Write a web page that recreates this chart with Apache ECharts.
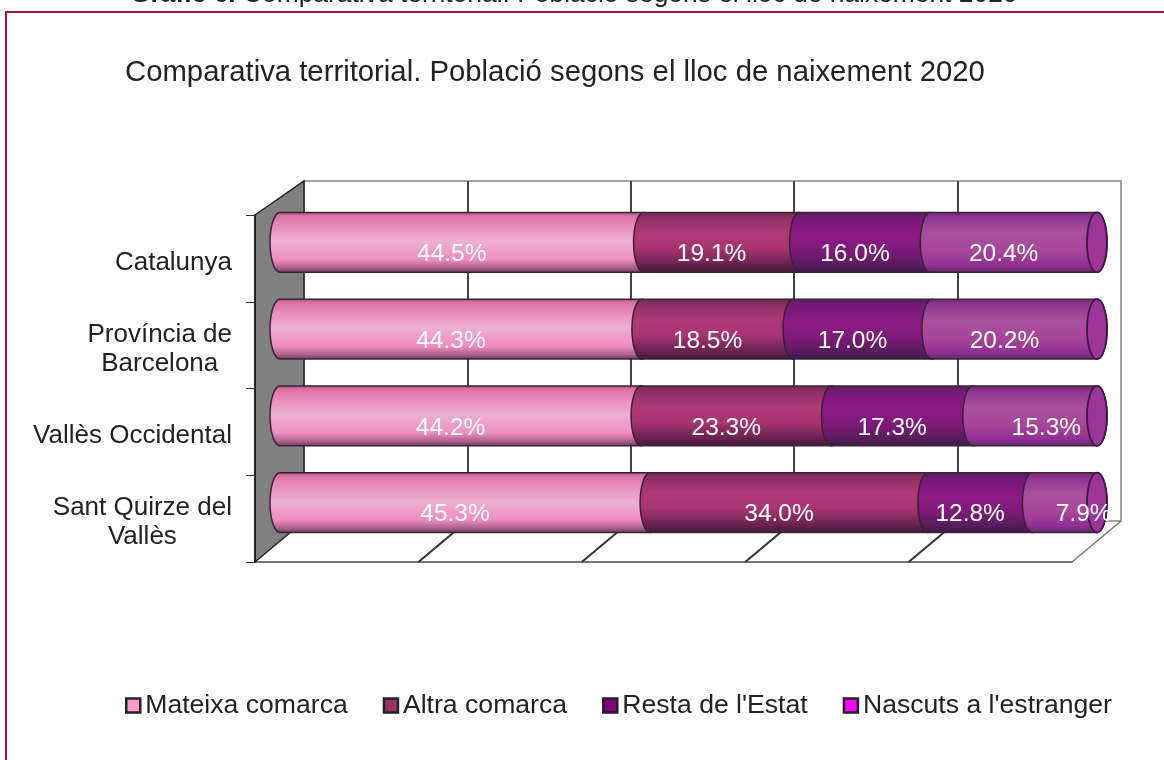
<!DOCTYPE html>
<html>
<head>
<meta charset="utf-8">
<style>html,body{margin:0;padding:0;background:#fff}#c{width:1164px;height:760px}</style>
<script src="https://cdn.jsdelivr.net/npm/echarts@6/dist/echarts.min.js"></script>
</head>
<body>
<div id="c"></div>
<script>
const categories = ['Catalunya', 'Província de\nBarcelona', 'Vallès Occidental', 'Sant Quirze del\nVallès'];
const seriesNames = ['Mateixa comarca', 'Altra comarca', "Resta de l'Estat", "Nascuts a l'estranger"];
const mateixa = [44.5, 44.3, 44.2, 45.3];
const altra = [19.1, 18.5, 23.3, 34.0];
const resta = [16.0, 17.0, 17.3, 12.8];
const estranger = [20.4, 20.2, 15.3, 7.9];
const valueTicks = [0, 20, 40, 60, 80, 100];
const pageHeading = 'Comparativa territorial. Població segons el lloc de naixement 2020';
const chartTitle = 'Comparativa territorial. Població segons el lloc de naixement 2020';

const FONT = '"Liberation Sans", Arial, sans-serif';
const legendColors = ['#FF99CC', '#993366', '#800080', '#FF00FF'];
const ramps = [
  [[0,'#8a4f70'],[0.06,'#d9709f'],[0.22,'#e88ab8'],[0.48,'#ecb0d0'],[0.78,'#f08cc0'],[0.92,'#a85f88'],[1,'#5e3a52']],
  [[0,'#6a2a50'],[0.1,'#8f2f63'],[0.35,'#ad3a75'],[0.6,'#a83570'],[0.85,'#6c2350'],[1,'#3e1a34']],
  [[0,'#54205e'],[0.12,'#761a78'],[0.4,'#8c1a84'],[0.65,'#7d1a78'],[0.88,'#551c5c'],[1,'#3a1a40']],
  [[0,'#6b2a72'],[0.1,'#8f3591'],[0.35,'#a8529c'],[0.65,'#a8459a'],[0.88,'#8f2f94'],[1,'#5c2a64']]
];
const capFill = '#9c349c';
const stroke = '#3c2238';
const rx = 10;
const seriesValues = [mateixa, altra, resta, estranger];

function halfEllipse(cx, cy, ry, from, to) {
  const pts = [];
  const n = 24;
  for (let i = 0; i <= n; i++) {
    const t = from + (to - from) * i / n;
    pts.push([cx + rx * Math.cos(t), cy + ry * Math.sin(t)]);
  }
  return pts;
}

function segmentData(si) {
  return categories.map((_, ci) => {
    let start = 0;
    for (let k = 0; k < si; k++) start += seriesValues[k][ci];
    return [start, start + seriesValues[si][ci], ci, seriesValues[si][ci]];
  });
}

function labelShift(si, ci) {
  if (si === 3 && ci === 2) return 11;
  if (si === 3 && ci === 3) return 19;
  return -10;
}

function renderSegment(si) {
  return function (params, api) {
    const ci = api.value(2);
    const last = si === seriesValues.length - 1;
    const a = api.coord([api.value(0), ci]);
    const endValue = last ? 100 : api.value(1);
    const b = api.coord([endValue, ci]);
    const ry = api.size([0, 1])[1] * 0.345;
    const cy = a[1];
    const pts = halfEllipse(a[0], cy, ry, -Math.PI / 2, -3 * Math.PI / 2)
      .concat(halfEllipse(b[0], cy, ry, Math.PI / 2, -Math.PI / 2));
    const children = [{
      type: 'polygon',
      shape: { points: pts },
      style: {
        fill: new echarts.graphic.LinearGradient(0, 0, 0, 1, ramps[si].map(s => ({ offset: s[0], color: s[1] }))),
        stroke: stroke, lineWidth: 1.5
      }
    }];
    if (last) {
      children.push({
        type: 'ellipse',
        shape: { cx: b[0], cy: cy, rx: rx, ry: ry },
        style: { fill: capFill, stroke: '#3a1a40', lineWidth: 1.8 }
      });
    }
    const mid = api.coord([(api.value(0) + api.value(1)) / 2, ci]);
    children.push({
      type: 'text',
      z2: 20,
      style: {
        x: mid[0] + labelShift(si, ci), y: cy + 12,
        text: api.value(3).toFixed(1) + '%',
        fill: '#fff', font: '24.5px ' + FONT,
        align: 'center', verticalAlign: 'middle'
      }
    });
    return { type: 'group', children: children };
  };
}

function renderFrame(params, api) {
  const v = api.value(0);
  const x = api.coord([v, 0])[0];
  const y = params.coordSys.y + params.coordSys.height;
  return {
    type: 'line',
    shape: { x1: x, y1: y, x2: x + 49, y2: y - 41 },
    style: { stroke: v === 100 ? '#777' : '#333', lineWidth: v === 100 ? 1.5 : 2 }
  };
}

function renderSideWall(params, api) {
  const cs = params.coordSys;
  const x = api.coord([0, 0])[0];
  const top = cs.y;
  const bottom = cs.y + cs.height;
  return {
    type: 'polygon',
    shape: { points: [[x, top], [x + 49, top - 34], [x + 49, bottom - 41], [x, bottom]] },
    style: { fill: '#808080', stroke: '#222', lineWidth: 1.5 }
  };
}

const chart = echarts.init(document.getElementById('c'), null, { renderer: 'canvas' });
chart.setOption({
  animation: false,
  backgroundColor: '#fff',
  title: {
    text: chartTitle, left: 120, top: 53,
    textStyle: { fontFamily: FONT, fontSize: 29.3, fontWeight: 'normal', color: '#222' }
  },
  graphic: [
    {
      type: 'rect', silent: true, z: -1,
      shape: { x: 6, y: 12, width: 1300, height: 900 },
      style: { fill: '#fff', stroke: '#A5123F', lineWidth: 2 }
    },
    {
      type: 'text', left: 130, top: -18, silent: true,
      style: {
        text: '{b|Gràfic 6.} ' + pageHeading,
        font: '26.4px ' + FONT, fill: '#222',
        rich: { b: { fontWeight: 'bold', fontFamily: FONT, fontSize: 26.4, fill: '#222' } }
      }
    }
  ],
  legend: {
    left: 120, top: 687, itemWidth: 14, itemHeight: 14, itemGap: 35, icon: 'rect',
    selectedMode: false,
    textStyle: { fontFamily: FONT, fontSize: 26.6, color: '#222', padding: [0, 0, 0, 0] },
    data: seriesNames.map((name, i) => ({
      name: name,
      itemStyle: { color: legendColors[i], borderColor: '#222', borderWidth: 2.5 }
    }))
  },
  grid: [
    { left: 304, top: 181, width: 817, height: 340, show: true, backgroundColor: '#fff', borderColor: '#888', borderWidth: 1.5 },
    { left: 255, top: 215, width: 817, height: 347 },
    { left: 280, top: 199, width: 817, height: 347 }
  ],
  xAxis: [
    { gridIndex: 0, type: 'value', min: 0, max: 100, interval: 20, axisLabel: { show: false }, axisTick: { show: false }, axisLine: { show: false },
      splitLine: { show: true, showMinLine: false, showMaxLine: false, lineStyle: { color: '#444', width: 2 } } },
    { gridIndex: 1, type: 'value', min: 0, max: 100, interval: 20, axisLabel: { show: false }, axisTick: { show: false },
      axisLine: { show: true, lineStyle: { color: '#777', width: 2 } }, splitLine: { show: false } },
    { gridIndex: 2, type: 'value', min: 0, max: 100, interval: 20, show: false, splitLine: { show: false } }
  ],
  yAxis: [
    { gridIndex: 0, type: 'category', data: categories, inverse: true, show: false },
    { gridIndex: 1, type: 'category', data: categories, inverse: true, z: 4,
      axisLine: { show: true, lineStyle: { color: '#222', width: 2 } },
      axisTick: { show: true, length: 9, lineStyle: { color: '#333', width: 1 } },
      axisLabel: {
        margin: 23,
        align: 'right',
        lineHeight: 29,
        padding: [8, 0, 0, 0],
        formatter: v => v.split('\n').map(s => '{c|' + s + '}').join('\n'),
        rich: { c: { align: 'center', fontFamily: FONT, fontSize: 26, color: '#222', lineHeight: 29 } }
      } },
    { gridIndex: 2, type: 'category', data: categories, inverse: true, show: false }
  ],
  series: [
    { type: 'custom', name: 'wall', xAxisIndex: 1, yAxisIndex: 1, silent: true, z: 1, clip: false,
      data: [[0]], renderItem: renderSideWall, encode: { x: 0 } },
    { type: 'custom', name: 'floor', xAxisIndex: 1, yAxisIndex: 1, silent: true, z: 1, clip: false,
      data: valueTicks.slice(1).map(v => [v]), renderItem: renderFrame, encode: { x: 0 } }
  ].concat(seriesNames.map((name, si) => ({
    type: 'custom', name: name, xAxisIndex: 2, yAxisIndex: 2, z: 3 + si, clip: false, silent: true,
    itemStyle: { color: legendColors[si] },
    data: segmentData(si),
    encode: { x: [0, 1], y: 2 },
    renderItem: renderSegment(si)
  })))
});
</script>
</body>
</html>
